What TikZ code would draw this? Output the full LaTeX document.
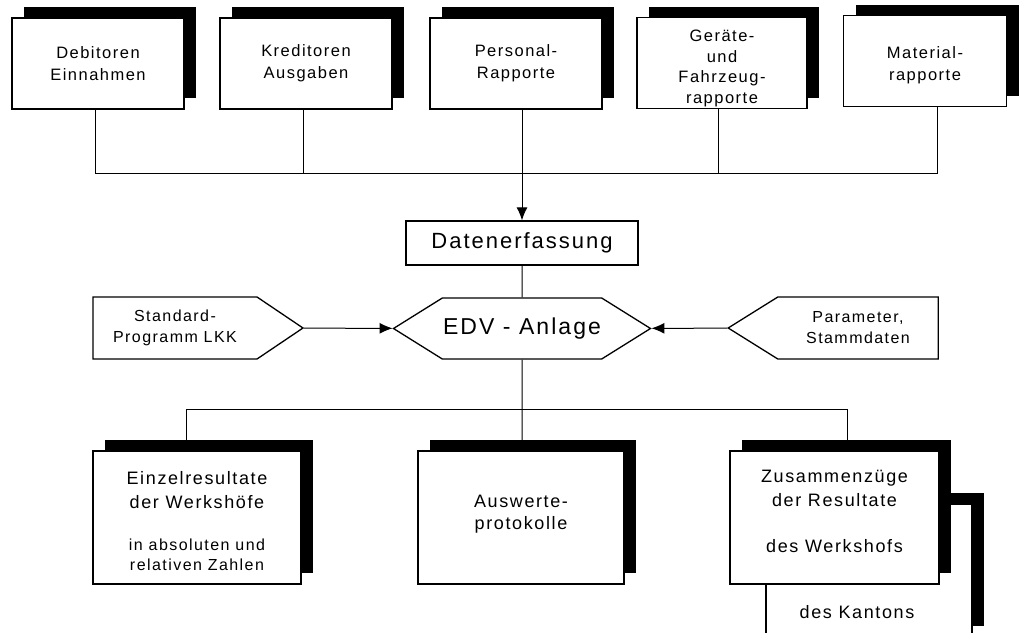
\documentclass[tikz,border=0pt]{standalone}
\usepackage{fontspec}
\setmainfont{Liberation Sans}[LetterSpace=9]
\usetikzlibrary{shapes.symbols, arrows.meta, positioning, calc, backgrounds, shadows}
\newcommand{\subsize}{\fontsize{16}{20}\selectfont}

\begin{document}
\begin{tikzpicture}[x=1pt, y=-1pt,
    srcbox/.style={draw, fill=white, line width=1.3pt, minimum width=172pt,
      minimum height=91pt, inner sep=0pt, align=center,
      font=\fontsize{16.5}{22}\selectfont,
      drop shadow={shadow xshift=12pt, shadow yshift=11pt, fill=black, opacity=1}},
    outbox/.style={srcbox, minimum width=208pt, minimum height=133pt,
      font=\fontsize{18}{24}\selectfont},
    feed/.style={signal, draw, fill=white, line width=1.3pt, minimum width=210pt,
      minimum height=62pt, inner sep=0pt, align=center,
      font=\fontsize{16}{21}\selectfont},
    link/.style={line width=1pt},
    flow/.style={link, -{Latex[length=13pt, width=11pt]}}]
  \useasboundingbox (0,0) rectangle (1025,632);

  % Quellen
  \node[srcbox] (deb)  at (98,63.5)  {Debitoren\\Einnahmen};
  \node[srcbox] (kred) at (306,63.5) {Kreditoren\\Ausgaben};
  \node[srcbox] (pers) at (516,63.5) {Personal-\\Rapporte};
  \node[srcbox, minimum width=170pt, font=\fontsize{16.5}{20.5}\selectfont] (gear) at (722,63)
    {\rule{0pt}{22pt}Geräte-\\und\\Fahrzeug-\\rapporte};
  \node[srcbox, minimum width=163pt] (mat) at (925,61) {\rule{0pt}{21pt}Material-\\rapporte};

  % Verarbeitung
  \node[draw, fill=white, line width=1.3pt, minimum width=232pt, minimum height=44pt,
    inner sep=0pt, font=\fontsize{22}{26}\selectfont] (dat) at (522,243) {Datenerfassung};
  \node[feed, signal to=east and west, signal pointer angle=64, minimum width=257pt,
    minimum height=61pt, font=\fontsize{23}{27}\selectfont] (edv) at (522,328.5) {EDV - Anlage};
  \node[feed, signal to=east, signal pointer angle=68] (std) at (175,328)
    {Standard-\\Programm LKK};
  \node[feed, signal to=west, signal pointer angle=64] (par) at (858,328)
    {Parameter,\\Stammdaten};

  % Ergebnisse
  \node[outbox] (einz) at (197,517.5)
    {\rule{0pt}{20pt}Einzelresultate\\der Werkshöfe\\[18pt]\subsize in absoluten und\\[-4pt]\subsize relativen Zahlen};
  \node[outbox, minimum width=206pt] (ausw) at (521,517.5)
    {Auswerte-\\[-2pt]protokolle\rule[-10pt]{0pt}{0pt}};
  \node[outbox, minimum width=206pt] (kant) at (869,570.5) {};
  \node[font=\fontsize{18}{24}\selectfont] (kanttxt) at (857,612) {des Kantons};
  \node[outbox, minimum width=209pt] (zus) at (834.5,517.5)
    {Zusammenzüge\\der Resultate\\[22pt]des Werkshofs\rule[-12pt]{0pt}{0pt}};

  \coordinate (j1) at (95,173);
  \coordinate (j2) at (303,173);
  \coordinate (j3) at (522,173);
  \coordinate (j4) at (718,173);
  \coordinate (j5) at (937,173);
  \coordinate (k1) at (186,409);
  \coordinate (k2) at (522,409);
  \coordinate (k3) at (847,409);

  \begin{scope}[on background layer]
    \draw[link] (j1 |- deb.south) -- (j1) -- (j5) -- (j5 |- mat.south);
    \draw[link] (j2 |- kred.south) -- (j2);
    \draw[link] (j4 |- gear.south) -- (j4);
    \draw[flow] (j3 |- pers.south) -- (j3 |- dat.north);
    \draw[link] (dat) -- (edv);
    \draw[flow] (std) -- (edv);
    \draw[flow] (par) -- (edv);
    \draw[link] (edv) -- (k2) -- (k2 |- ausw.north);
    \draw[link] (k1 |- einz.north) -- (k1) -- (k3) -- (k3 |- zus.north);
  \end{scope}
\end{tikzpicture}
\end{document}
